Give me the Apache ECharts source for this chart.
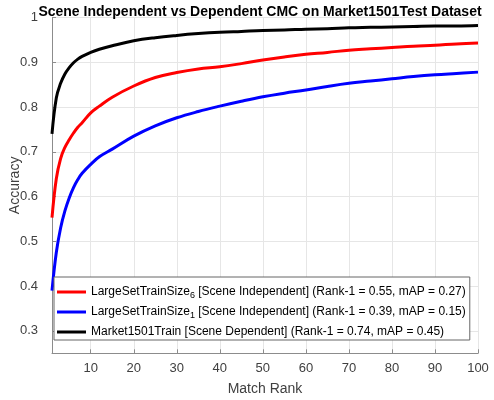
<!DOCTYPE html>
<html>
<head>
<meta charset="utf-8">
<script src="https://cdn.jsdelivr.net/npm/echarts@6/dist/echarts.min.js"></script>
<style>
html,body{margin:0;padding:0;background:#fff;}
#chart{width:494px;height:400px;}
</style>
</head>
<body>
<div id="chart"></div>
<script>
const ranks = [1,2,3,4,5,6,7,8,10,12,15,20,25,30,35,40,45,50,55,60,65,70,75,80,85,90,95,100];
const size6Values = [0.553,0.640,0.685,0.710,0.727,0.742,0.755,0.765,0.787,0.802,0.822,0.847,0.866,0.877,0.885,0.890,0.897,0.905,0.912,0.918,0.922,0.927,0.930,0.933,0.936,0.938,0.941,0.943];
const size1Values = [0.390,0.475,0.530,0.568,0.597,0.620,0.638,0.652,0.672,0.689,0.706,0.735,0.758,0.776,0.790,0.802,0.813,0.823,0.831,0.838,0.846,0.853,0.858,0.863,0.868,0.872,0.875,0.878];
const marketValues = [0.740,0.820,0.853,0.874,0.888,0.899,0.907,0.913,0.922,0.929,0.937,0.948,0.955,0.960,0.964,0.967,0.969,0.971,0.972,0.974,0.975,0.977,0.978,0.979,0.980,0.981,0.981,0.982];
const xTicks = [10,20,30,40,50,60,70,80,90,100];
const yTicks = [0.3,0.4,0.5,0.6,0.7,0.8,0.9,1];
const seriesNames = ['size6','size1','market'];
const legendTexts = {
  size6: '{a|LargeSetTrainSize}{s|6}{a| [Scene Independent] (Rank-1 = 0.55, mAP = 0.27)}',
  size1: '{a|LargeSetTrainSize}{s|1}{a| [Scene Independent] (Rank-1 = 0.39, mAP = 0.15)}',
  market: '{a|Market1501Train [Scene Dependent] (Rank-1 = 0.74, mAP = 0.45)}'
};
const titleText = 'Scene Independent vs Dependent CMC on Market1501Test Dataset';

const pair = vals => ranks.map((r,i)=>[r, vals[i]]);
const FONT = '"Liberation Sans", Arial, sans-serif';
const chart = echarts.init(document.getElementById('chart'), null, {renderer:'canvas'});
const axisGray = '#8c8c8c';
chart.setOption({
  animation:false,
  backgroundColor:'#fff',
  title:{text:titleText,left:255,top:0,textAlign:'center',
    textStyle:{fontFamily:FONT,fontWeight:'bold',fontSize:14,color:'#000'}},
  grid:{left:52,right:16,top:17.5,bottom:46.7,containLabel:false,outerBoundsMode:'none'},
  xAxis:{type:'value',min:1,max:100,
    name:'Match Rank',nameLocation:'middle',nameGap:29,nameMoveOverlap:false,
    nameTextStyle:{fontFamily:FONT,fontSize:14,color:'#404040'},
    axisLine:{show:true,lineStyle:{color:axisGray,width:1}},
    axisTick:{show:true,inside:true,length:4,customValues:xTicks,lineStyle:{color:axisGray}},
    axisLabel:{customValues:xTicks,margin:9,fontFamily:FONT,fontSize:13,color:'#404040'},
    splitLine:{show:true,lineStyle:{color:'#e6e6e6',width:1}}
  },
  yAxis:{type:'value',min:0.25,max:1,
    name:'Accuracy',nameLocation:'middle',nameGap:30,nameMoveOverlap:false,
    nameTextStyle:{fontFamily:FONT,fontSize:14,color:'#404040'},
    axisLine:{show:true,lineStyle:{color:axisGray,width:1}},
    axisTick:{show:true,inside:true,length:4,customValues:yTicks,lineStyle:{color:axisGray}},
    axisLabel:{customValues:yTicks,margin:14,fontFamily:FONT,fontSize:13,color:'#404040',
      formatter:v=>String(Math.round(v*10)/10)},
    splitLine:{show:true,lineStyle:{color:'#e6e6e6',width:1}}
  },
  legend:{orient:'vertical',left:54,top:277,
    data:seriesNames,
    icon:'rect',itemWidth:29,itemHeight:3,itemGap:6,
    padding:[9,4,2,3],
    borderColor:'#666',borderWidth:1,backgroundColor:'#fff',
    formatter:n=>legendTexts[n],
    textStyle:{fontFamily:FONT,fontSize:12,color:'#000',
      rich:{a:{fontFamily:FONT,fontSize:12,color:'#000'},
            s:{fontFamily:FONT,fontSize:9,color:'#000',padding:[7,0,0,0]}}}
  },
  series:[
    {name:'size6',type:'line',data:pair(size6Values),showSymbol:false,smooth:0.4,
      color:'#ff0000',lineStyle:{color:'#ff0000',width:3}},
    {name:'size1',type:'line',data:pair(size1Values),showSymbol:false,smooth:0.4,
      color:'#0000ff',lineStyle:{color:'#0000ff',width:3}},
    {name:'market',type:'line',data:pair(marketValues),showSymbol:false,smooth:0.4,
      color:'#000000',lineStyle:{color:'#000000',width:3}}
  ]
});
</script>
</body>
</html>
